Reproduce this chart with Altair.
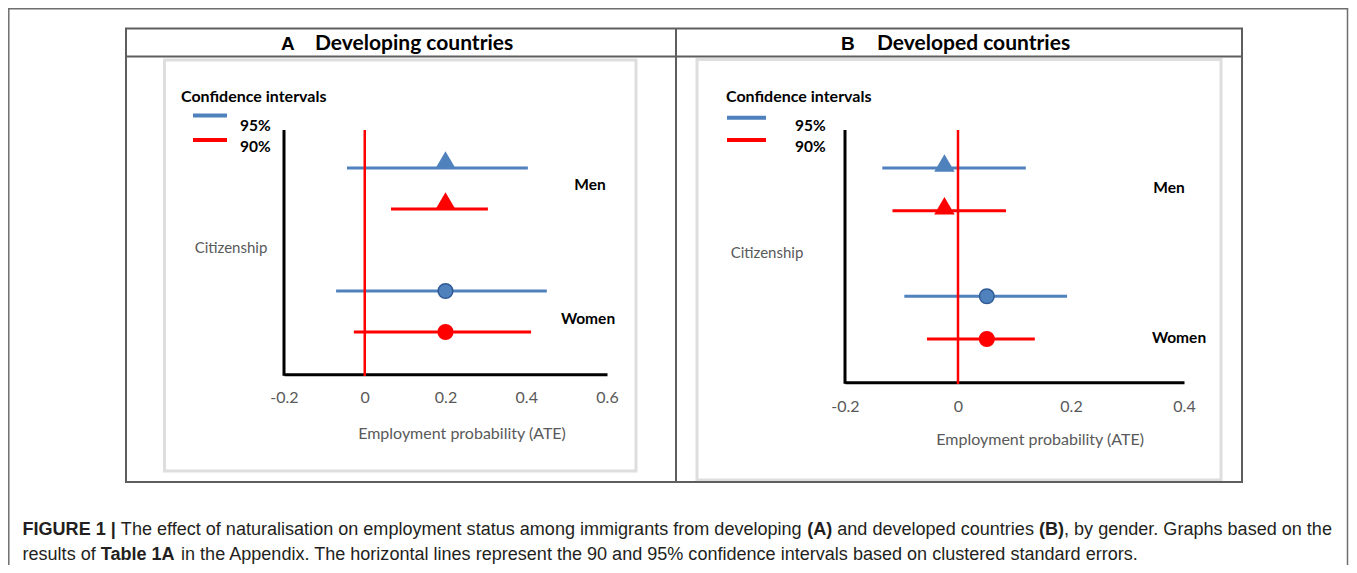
import altair as alt
import pandas as pd

# ------------------------------------------------------------------ data
rows = ["Men 95%", "Men 90%", "Women 95%", "Women 90%"]
row_group = ["Men", "Men", "Women", "Women"]
row_ci = ["95%", "90%", "95%", "90%"]
slots = ["Men 95%", "Men 90%", "Citizenship", "Women 95%", "Women 90%"]
ci_levels = ["95%", "90%"]

# Panel A: developing countries
dev_est = [0.20, 0.20, 0.20, 0.20]
dev_lo = [-0.044, 0.065, -0.071, -0.027]
dev_hi = [0.404, 0.305, 0.451, 0.412]
dev_ticks = [-0.2, 0, 0.2, 0.4, 0.6]

# Panel B: developed countries
dvd_est = [-0.024, -0.024, 0.051, 0.051]
dvd_lo = [-0.134, -0.116, -0.095, -0.055]
dvd_hi = [0.120, 0.085, 0.193, 0.136]
dvd_ticks = [-0.2, 0, 0.2, 0.4]

caption1 = [("FIGURE 1 |", True),
            (" The effect of naturalisation on employment status among immigrants from developing ", False),
            ("(A)", True), (" and developed countries ", False), ("(B)", True),
            (", by gender. Graphs based on the", False)]
caption2 = [("results of ", False), ("Table 1A", True),
            (" in the Appendix. The horizontal lines represent the 90 and 95% confidence intervals based on clustered standard errors.", False)]

# ------------------------------------------------------------------ style
BLUE = "#4f81bd"
BLUE_EDGE = "#2f5a96"
RED = "#ff0000"
GRAY = "#595959"
FONT = "Lato"
W, H = 1341, 557
M = 8  # page margin


def px(v):
    return v - M


one = pd.DataFrame({"k": [0]})


def text(s, x, y, size, weight="normal", color="#000000", font=FONT, align="left", baseline="middle"):
    return alt.Chart(one).mark_text(text=s, align=align, baseline=baseline, font=font,
                                    fontSize=size, fontWeight=weight, color=color).encode(
        x=alt.value(px(x)), y=alt.value(px(y)))


def hline(x1, x2, y, color, width):
    return alt.Chart(one).mark_rule(color=color, strokeWidth=width).encode(
        x=alt.value(px(x1)), x2=alt.value(px(x2)), y=alt.value(px(y)))


def vline(x, y1, y2, color, width):
    return alt.Chart(one).mark_rule(color=color, strokeWidth=width).encode(
        x=alt.value(px(x)), y=alt.value(px(y1)), y2=alt.value(px(y2)))


def box(x1, y1, x2, y2, color, width):
    return alt.Chart(one).mark_rect(fillOpacity=0, stroke=color, strokeWidth=width).encode(
        x=alt.value(px(x1)), x2=alt.value(px(x2)), y=alt.value(px(y1)), y2=alt.value(px(y2)))


def panel(est, lo, hi, ticks, x_px, y_px, axis_y, top_y, zero_bottom, label_pad, title_x, title_dy, tri_dy):
    df = pd.DataFrame({"row": rows, "group": row_group, "ci": row_ci, "est": est, "lo": lo, "hi": hi})
    frame = pd.DataFrame({"left": [ticks[0]], "zero": [0.0]})
    xs = alt.Scale(domain=[ticks[0], ticks[-1]], range=[px(x_px[0]), px(x_px[1])], nice=False, zero=False)
    ys = alt.Scale(type="point", domain=slots, range=[px(y_px[0]), px(y_px[1])], padding=0)
    cs = alt.Scale(domain=ci_levels, range=[BLUE, RED])
    es = alt.Scale(domain=ci_levels, range=[BLUE_EDGE, RED])
    axis = alt.Axis(orient="bottom", offset=px(axis_y) - H, values=ticks,
                    labelExpr="datum.value == 0 ? '0' : toString(round(datum.value * 10) / 10)",
                    domainColor="#000000", domainWidth=3, ticks=False, tickSize=0, grid=False,
                    labelFont=FONT, labelFontSize=16, labelColor=GRAY, labelBaseline="middle",
                    labelPadding=label_pad, labelFlush=False, labelOverlap=False,
                    title="Employment probability (ATE)", titleFont=FONT, titleFontSize=16,
                    titleFontWeight="normal", titleColor=GRAY, titleBaseline="middle",
                    titleAlign="center", titleX=px(title_x), titleY=title_dy)
    y_line = alt.Chart(frame).mark_rule(color="#000000", strokeWidth=3).encode(
        x=alt.X("left:Q", scale=xs, axis=axis),
        y=alt.value(px(top_y)), y2=alt.value(px(axis_y) + 1.5))
    zero_line = alt.Chart(frame).mark_rule(color=RED, strokeWidth=2.5).encode(
        x=alt.X("zero:Q", scale=xs, axis=None),
        y=alt.value(px(top_y)), y2=alt.value(px(zero_bottom)))
    ci = alt.Chart(df).mark_rule(strokeWidth=3).encode(
        x=alt.X("lo:Q", scale=xs, axis=None), x2="hi:Q",
        y=alt.Y("row:N", scale=ys, axis=None),
        color=alt.Color("ci:N", scale=cs, legend=None))
    tri = alt.Chart(df).transform_filter(alt.datum.group == "Men").mark_point(
        shape="triangle-up", filled=True, size=420, opacity=1, yOffset=tri_dy).encode(
        x=alt.X("est:Q", scale=xs, axis=None),
        y=alt.Y("row:N", scale=ys, axis=None),
        color=alt.Color("ci:N", scale=cs, legend=None))
    circ = alt.Chart(df).transform_filter(alt.datum.group == "Women").mark_point(
        shape="circle", filled=True, size=215, opacity=1, strokeWidth=1.5).encode(
        x=alt.X("est:Q", scale=xs, axis=None),
        y=alt.Y("row:N", scale=ys, axis=None),
        fill=alt.Fill("ci:N", scale=cs, legend=None),
        stroke=alt.Stroke("ci:N", scale=es, legend=None))
    return [y_line, ci, zero_line, tri, circ]


# ------------------------------------------------------------------ caption layout (Arial metrics)
REG = {" ": 278, "(": 333, ")": 333, ",": 278, ".": 278, "%": 889, "|": 260, "-": 333}
BOLD = {" ": 278, "(": 333, ")": 333, ",": 278, ".": 278, "%": 889, "|": 280, "-": 333}
for d in "0123456789":
    REG[d] = 556
    BOLD[d] = 556
REG.update(dict(zip("ABCDEFGHIJKLMNOPQRSTUVWXYZ",
                    [667, 667, 722, 722, 667, 611, 778, 722, 278, 500, 667, 556, 833, 722, 778, 667, 778, 722, 667, 611, 722, 667, 944, 667, 667, 611])))
REG.update(dict(zip("abcdefghijklmnopqrstuvwxyz",
                    [556, 556, 500, 556, 556, 278, 556, 556, 222, 222, 500, 222, 833, 556, 556, 556, 556, 333, 500, 278, 556, 500, 722, 500, 500, 500])))
BOLD.update(dict(zip("ABCDEFGHIJKLMNOPQRSTUVWXYZ",
                     [722, 722, 722, 722, 667, 611, 778, 722, 278, 556, 722, 611, 833, 722, 778, 667, 778, 722, 667, 611, 722, 667, 944, 667, 667, 611])))
BOLD.update(dict(zip("abcdefghijklmnopqrstuvwxyz",
                     [556, 611, 556, 611, 556, 333, 611, 611, 278, 278, 556, 278, 889, 611, 611, 611, 611, 389, 556, 333, 611, 556, 778, 556, 556, 500])))


def units(s, bold):
    t = BOLD if bold else REG
    return sum(t.get(ch, 556) for ch in s) / 1000.0


cap_left, cap_right = 22.5, 1333
cap_fs = (cap_right - cap_left) / sum(units(s, b) for s, b in caption1)


def caption_line(segs, y):
    out = []
    x = cap_left
    for s, b in segs:
        lead = len(s) - len(s.lstrip(" "))
        xs = x + units(" " * lead, b) * cap_fs
        out.append(text(s.strip(" "), xs, y, cap_fs, weight="bold" if b else "normal",
                        color="#231f20", font="Liberation Sans", baseline="alphabetic"))
        x += units(s, b) * cap_fs
    return out


# ------------------------------------------------------------------ assemble
decor = [
    # outer frame
    hline(8, 1348, 8.8, "#6e6e6e", 1.5),
    vline(8.8, 8, 565, "#6e6e6e", 1.5),
    vline(1347.5, 8, 565, "#6e6e6e", 1.5),
    # inner light boxes
    box(164.5, 60, 636, 471, "#dedede", 3),
    box(697, 59.5, 1221, 480, "#dedede", 3),
    # table
    box(126, 28.5, 1242, 482, "#5e5e5e", 2),
    hline(126, 1242, 56.5, "#5e5e5e", 2),
    vline(676, 28.5, 482, "#5e5e5e", 2),
]

titles = [
    text("A", 281, 44, 19, weight="bold", font="Liberation Sans"),
    text("Developing countries", 315, 44, 21, weight="bold"),
    text("B", 841, 44, 19, weight="bold", font="Liberation Sans"),
    text("Developed countries", 877, 44, 21, weight="bold"),
]

legend = [
    text("Confidence intervals", 181, 97, 16, weight="bold"),
    hline(193, 227, 115.5, BLUE, 4),
    hline(193, 227, 140, RED, 4),
    text("95%", 240, 125.5, 15.5, weight="bold"),
    text("90%", 240, 147, 15.5, weight="bold"),
    text("Confidence intervals", 726, 97, 16, weight="bold"),
    hline(727, 766, 117.7, BLUE, 4),
    hline(727, 766, 140, RED, 4),
    text("95%", 795, 125.5, 15.5, weight="bold"),
    text("90%", 795, 147, 15.5, weight="bold"),
]

labels = [
    text("Men", 590, 185, 15.5, weight="bold", align="center"),
    text("Women", 588, 319, 15.5, weight="bold", align="center"),
    text("Citizenship", 231, 247.5, 15, color=GRAY, align="center"),
    text("Men", 1169, 187.5, 15.5, weight="bold", align="center"),
    text("Women", 1179, 337.5, 15.5, weight="bold", align="center"),
    text("Citizenship", 767, 252.5, 15, color=GRAY, align="center"),
]

pA = panel(dev_est, dev_lo, dev_hi, dev_ticks, (284, 607), (168, 332), 374.3, 130, 376,
           23, 461.5, 59.5, -8)
pB = panel(dvd_est, dvd_lo, dvd_hi, dvd_ticks, (845, 1184), (168, 339), 382.3, 130, 384,
           24, 1039.6, 57.5, -5)

caps = caption_line(caption1, 535) + caption_line(caption2, 560)

chart = alt.layer(*decor, *pA, *pB, *titles, *legend, *labels, *caps).resolve_scale(
    x="independent", y="independent"
).resolve_axis(
    x="independent", y="independent"
).properties(
    width=W, height=H, padding=0, autosize=alt.AutoSizeParams(type="none"),
    background="white"
).configure_view(stroke=None)

chart.save("out.html", embed_options={"renderer": "svg", "actions": False})
